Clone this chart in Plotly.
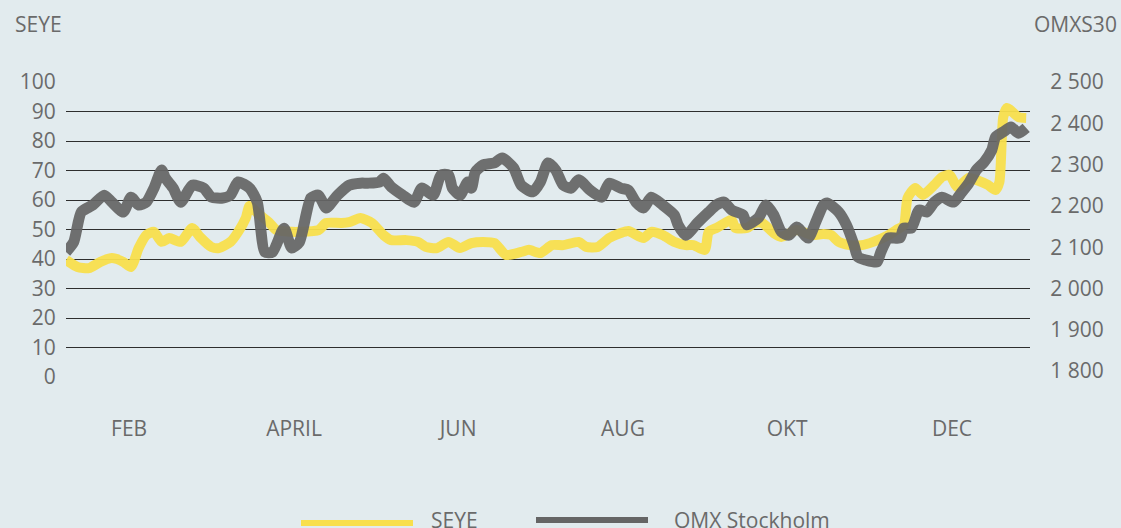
import plotly.graph_objects as go

# ---- data (trading-day index across the year) ----
seye_day = [0, 3, 6, 9, 12, 15, 17, 19, 21, 23, 25, 27, 30, 33, 35, 38, 40, 43, 45, 47, 48,
            50, 53, 55, 59, 61, 66, 68, 72, 74, 77, 80, 83, 85, 89, 92, 94, 97, 100, 103,
            106, 109, 112, 115, 119, 121, 124, 127, 130, 134, 136, 139, 142, 145, 147, 151,
            153, 156, 159, 162, 164, 167, 168, 170, 174, 175, 178, 180, 182, 185, 187, 191,
            195, 198, 200, 202, 205, 208, 211, 215, 217, 219, 220, 222, 224, 227, 229, 231,
            233, 236, 238, 241, 243, 244, 245, 246, 249, 251]
seye = [39.7, 37.3, 36.9, 39.0, 40.3, 39.0, 37.3, 43.7, 48.1, 49.2, 45.8, 47.1, 45.8, 50.5,
        47.5, 44.1, 43.7, 45.8, 49.2, 53.9, 58.0, 55.6, 52.5, 49.8, 49.2, 49.2, 49.8, 52.2,
        52.2, 52.5, 53.9, 52.2, 48.1, 46.4, 46.4, 45.8, 44.1, 43.7, 45.8, 43.7, 45.4, 45.8,
        45.4, 41.4, 42.4, 43.1, 42.0, 44.7, 44.7, 45.8, 44.1, 44.1, 47.1, 48.8, 49.5, 47.1,
        49.2, 48.1, 45.8, 44.7, 44.7, 43.1, 49.2, 50.5, 53.2, 50.5, 50.5, 52.2, 52.2, 48.8,
        47.5, 49.8, 48.1, 48.5, 48.1, 45.8, 44.7, 44.7, 45.8, 48.1, 49.8, 51.5, 60.7, 64.1,
        61.7, 65.1, 67.8, 68.5, 64.4, 67.5, 66.8, 65.1, 63.4, 66.1, 88.1, 91.2, 88.1, 87.8]

omx_day = [0, 2, 4, 7, 10, 12, 15, 17, 19, 21, 23, 25, 26, 28, 30, 33, 36, 38, 41, 43, 45,
           48, 50, 52, 54, 57, 59, 61, 64, 66, 68, 71, 74, 77, 79, 82, 83, 85, 88, 91, 93,
           96, 98, 100, 101, 103, 105, 106, 107, 109, 112, 114, 117, 119, 122, 124, 126,
           128, 130, 132, 134, 137, 140, 142, 145, 147, 149, 151, 153, 156, 159, 160, 162,
           165, 168, 170, 172, 174, 177, 178, 181, 183, 185, 187, 189, 191, 194, 196, 198,
           199, 202, 204, 206, 207, 209, 212, 213, 215, 218, 219, 221, 223, 225, 227, 229,
           232, 234, 236, 238, 240, 242, 243, 245, 247, 249, 251]
omx = [2088, 2112, 2185, 2202, 2226, 2209, 2185, 2221, 2202, 2209, 2243, 2287, 2267, 2243,
       2209, 2250, 2243, 2221, 2219, 2226, 2258, 2243, 2209, 2088, 2088, 2146, 2098, 2112,
       2219, 2226, 2195, 2226, 2250, 2255, 2255, 2258, 2267, 2246, 2226, 2209, 2243, 2226,
       2275, 2275, 2243, 2226, 2258, 2243, 2282, 2299, 2304, 2316, 2292, 2250, 2234, 2258,
       2304, 2287, 2250, 2243, 2263, 2238, 2221, 2255, 2243, 2238, 2209, 2195, 2221, 2202,
       2178, 2154, 2129, 2158, 2185, 2202, 2209, 2190, 2178, 2154, 2171, 2202, 2178, 2137,
       2129, 2149, 2122, 2161, 2202, 2207, 2185, 2154, 2105, 2076, 2069, 2064, 2088, 2122,
       2122, 2146, 2146, 2190, 2185, 2209, 2221, 2209, 2231, 2255, 2287, 2306, 2335, 2367,
       2379, 2391, 2376, 2389]

month_pos = [16.5, 59.6, 102.5, 145.6, 188.5, 231.6]
month_labels = ["FEB", "APRIL", "JUN", "AUG", "OKT", "DEC"]

left_ticks = list(range(0, 101, 10))
right_ticks = list(range(1800, 2501, 100))
right_labels = ["1 800", "1 900", "2 000", "2 100", "2 200", "2 300", "2 400", "2 500"]

# ---- style ----
BG = "#e2ebee"
TXT = "#6a6a6a"
YELLOW = "#f8df4c"
GREY = "#656565"
FONT = "Open Sans"
FS = 21

fig = go.Figure()
fig.add_trace(go.Scatter(x=seye_day, y=seye, mode="lines", name="SEYE",
                         line=dict(color=YELLOW, width=10, shape="spline", smoothing=0.6),
                         opacity=0.95, showlegend=False, yaxis="y"))
fig.add_trace(go.Scatter(x=omx_day, y=omx, mode="lines", name="OMX Stockholm",
                         line=dict(color=GREY, width=11, shape="spline", smoothing=0.6),
                         opacity=0.93, showlegend=False, yaxis="y2"))

fig.update_layout(
    width=1121, height=528, autosize=False,
    paper_bgcolor=BG, plot_bgcolor=BG,
    margin=dict(l=66, r=91, t=82, b=151),
    font=dict(family=FONT, size=FS, color=TXT),
    xaxis=dict(range=[0, 252], tickvals=month_pos, ticktext=month_labels,
               showgrid=False, zeroline=False, showline=False,
               ticks="outside", ticklen=33, tickcolor="rgba(0,0,0,0)",
               tickfont=dict(family=FONT, size=FS, color=TXT)),
    yaxis=dict(range=[0, 100], tickvals=left_ticks, showgrid=True,
               gridcolor="#2e2e2e", gridwidth=1, zeroline=False, showline=False,
               ticks="outside", ticklen=5, tickcolor="rgba(0,0,0,0)",
               tickfont=dict(family=FONT, size=FS, color=TXT)),
    yaxis2=dict(range=[1785.5, 2500], tickvals=right_ticks, ticktext=right_labels,
                overlaying="y", side="right", showgrid=False, zeroline=False,
                showline=False, ticks="outside", ticklen=15,
                tickcolor="rgba(0,0,0,0)",
                tickfont=dict(family=FONT, size=FS, color=TXT)),
    showlegend=False,
)

def px_x(p):
    return (p - 66) / 964.0

def px_y(p):
    return (377 - p) / 295.0

annotations = [
    dict(text="SEYE", x=px_x(13), y=px_y(24), xanchor="left", yanchor="middle"),
    dict(text="OMXS30", x=px_x(1119), y=px_y(24), xanchor="right", yanchor="middle"),
    dict(text="SEYE", x=px_x(429), y=px_y(520), xanchor="left", yanchor="middle"),
    dict(text="OMX Stockholm", x=px_x(672), y=px_y(520), xanchor="left", yanchor="middle"),
]
for a in annotations:
    a.update(xref="paper", yref="paper", showarrow=False,
             font=dict(family=FONT, size=FS, color=TXT))
fig.update_layout(annotations=annotations)

fig.update_layout(shapes=[
    dict(type="line", xref="paper", yref="paper", x0=px_x(301), x1=px_x(413),
         y0=px_y(523), y1=px_y(523), line=dict(color=YELLOW, width=6)),
    dict(type="line", xref="paper", yref="paper", x0=px_x(536), x1=px_x(648),
         y0=px_y(520), y1=px_y(520), line=dict(color=GREY, width=6)),
])

fig.write_html(
    "out.html",
    config={"displayModeBar": False, "staticPlot": True},
    post_script="document.body.style.margin='0';document.body.style.padding='0';"
                "document.body.style.overflow='hidden';"
                "document.body.style.background='" + BG + "';",
)
